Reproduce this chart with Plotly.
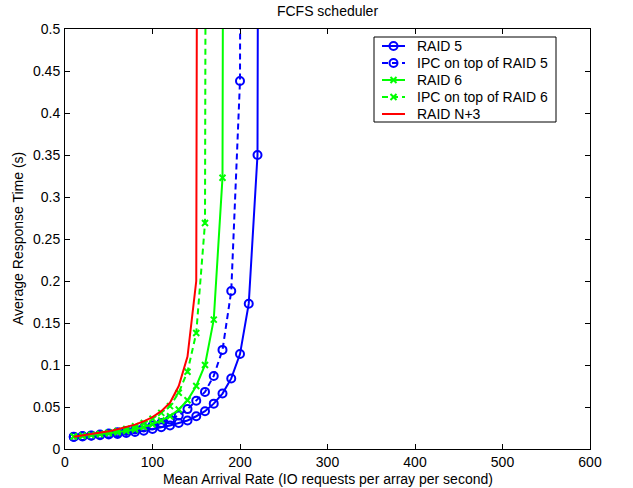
import plotly.graph_objects as go

x = [10, 20, 30, 40, 50, 60, 70, 80, 90, 100, 110, 120, 130, 140, 150, 160,
     170, 180, 190, 200, 210, 220, 230]

raid5 = [0.0143, 0.0150, 0.0157, 0.0164, 0.0172, 0.0180, 0.0190, 0.0203, 0.0218,
         0.0238, 0.0260, 0.0280, 0.0310, 0.0340, 0.0390, 0.0450, 0.0540, 0.0660,
         0.0840, 0.1130, 0.1730, 0.3500, 5.0]
ipc_raid5 = [0.0147, 0.0154, 0.0162, 0.0172, 0.0184, 0.0198, 0.0214, 0.0232, 0.0255,
             0.0280, 0.0310, 0.0350, 0.0400, 0.0475, 0.0575, 0.0680, 0.0870, 0.1180,
             0.1880, 0.4380, 5.0]
raid6 = [0.0148, 0.0156, 0.0165, 0.0175, 0.0187, 0.0200, 0.0215, 0.0232, 0.0260,
         0.0295, 0.0340, 0.0390, 0.0470, 0.0580, 0.0750, 0.1000, 0.1540, 0.3230, 5.0]
ipc_raid6 = [0.0148, 0.0157, 0.0168, 0.0180, 0.0195, 0.0215, 0.0240, 0.0270, 0.0310,
             0.0360, 0.0430, 0.0510, 0.0670, 0.0920, 0.1380, 0.2690, 5.0]
raid_n3 = [0.0146, 0.0160, 0.0175, 0.0190, 0.0210, 0.0235, 0.0260, 0.0290, 0.0330,
           0.0380, 0.0450, 0.0550, 0.0750, 0.1100, 0.2000, 5.0]

series_names = ["RAID 5", "IPC on top of RAID 5", "RAID 6", "IPC on top of RAID 6", "RAID N+3"]

x_ticks = [0, 100, 200, 300, 400, 500, 600]
y_ticks = [0, 0.05, 0.1, 0.15, 0.2, 0.25, 0.3, 0.35, 0.4, 0.45, 0.5]
y_tick_text = ["0", "0.05", "0.1", "0.15", "0.2", "0.25", "0.3", "0.35", "0.4", "0.45", "0.5"]

BLUE = "rgb(0,0,255)"
GREEN = "rgb(0,255,0)"
RED = "rgb(255,0,0)"
DASH = "6px,4px"
FONT = "Liberation Sans, Arial, Helvetica, sans-serif"

# style per series: colour, dash, marker symbol, marker size
styles = [
    (BLUE, "solid", "circle-open", 8),
    (BLUE, DASH, "circle-open", 8),
    (GREEN, "solid", "x-thin-open", 6),
    (GREEN, DASH, "x-thin-open", 6),
    (RED, "solid", None, 0),
]
series_values = [raid5, ipc_raid5, raid6, ipc_raid6, raid_n3]

L, R, T, B = 65, 43, 29, 39
W, H = 633, 488
pw, ph = W - L - R, H - T - B


def px_x(p):
    return (p - L) / pw


def px_y(p):
    return 1 - (p - T) / ph


fig = go.Figure()
for name, vals, (col, dash, sym, msz) in zip(series_names, series_values, styles):
    mode = "lines+markers" if sym else "lines"
    kw = dict(line=dict(color=col, width=2, dash=dash))
    if sym:
        kw["marker"] = dict(symbol=sym, size=msz, color=col, line=dict(width=2, color=col))
    fig.add_trace(go.Scatter(x=x[:len(vals)], y=vals, name=name, mode=mode,
                             showlegend=False, hoverinfo="skip", **kw))

# custom legend (MATLAB-style compact rows)
box_x0, box_x1, box_y0, box_y1 = 374, 556, 37, 122
row_y = [46, 63, 80, 97, 114]
line_x0, line_x1, text_x = 382, 405, 415
shapes = [dict(type="rect", xref="paper", yref="paper",
               x0=px_x(box_x0), x1=px_x(box_x1), y0=px_y(box_y1), y1=px_y(box_y0),
               line=dict(color="black", width=1), fillcolor="white", layer="below")]
annotations = []
for name, (col, dash, sym, msz), ry in zip(series_names, styles, row_y):
    fig.add_trace(go.Scatter(x=[px_x(line_x0), px_x(line_x1)], y=[px_y(ry), px_y(ry)],
                             xaxis="x2", yaxis="y2", mode="lines", showlegend=False,
                             hoverinfo="skip", line=dict(color=col, width=2, dash=dash)))
    if sym:
        fig.add_trace(go.Scatter(x=[px_x((line_x0 + line_x1) / 2)], y=[px_y(ry)],
                                 xaxis="x2", yaxis="y2", mode="markers", showlegend=False,
                                 hoverinfo="skip",
                                 marker=dict(symbol=sym, size=msz, color=col,
                                             line=dict(width=2, color=col))))
    annotations.append(dict(text=name, xref="paper", yref="paper", x=px_x(text_x), y=px_y(ry),
                            xanchor="left", yanchor="middle", showarrow=False,
                            font=dict(size=14)))

annotations += [
    dict(text="Mean Arrival Rate (IO requests per array per second)",
         xref="paper", yref="paper", x=0.5, y=px_y(479),
         xanchor="center", yanchor="middle", showarrow=False, font=dict(size=14)),
    dict(text="Average Response Time (s)", textangle=-90,
         xref="paper", yref="paper", x=px_x(18), y=0.5,
         xanchor="center", yanchor="middle", showarrow=False, font=dict(size=14)),
]

axis_common = dict(showgrid=False, zeroline=False, showline=True, linecolor="black",
                   linewidth=1, mirror="allticks", ticks="inside", ticklen=5,
                   tickcolor="black", tickfont=dict(size=14, color="black"),
                   automargin=False)

fig.update_layout(
    width=W, height=H,
    margin=dict(l=L, r=R, t=T, b=B),
    paper_bgcolor="white", plot_bgcolor="white",
    font=dict(family=FONT, size=14, color="black"),
    title=dict(text="FCFS scheduler", x=(L + pw / 2) / W, xanchor="center",
               y=1 - 11 / H, yanchor="middle", font=dict(size=14)),
    xaxis=dict(range=[0, 600], tickvals=x_ticks, ticklabelstandoff=0, **axis_common),
    yaxis=dict(range=[0, 0.5], tickvals=y_ticks, ticktext=y_tick_text,
               ticklabelstandoff=1, **axis_common),
    xaxis2=dict(overlaying="x", range=[0, 1], visible=False, anchor="y2"),
    yaxis2=dict(overlaying="y", range=[0, 1], visible=False, anchor="x2"),
    showlegend=False,
    shapes=shapes,
    annotations=annotations,
)

fig.write_html("out.html", config={"displayModeBar": False},
               post_script="document.body.style.margin='0';")
